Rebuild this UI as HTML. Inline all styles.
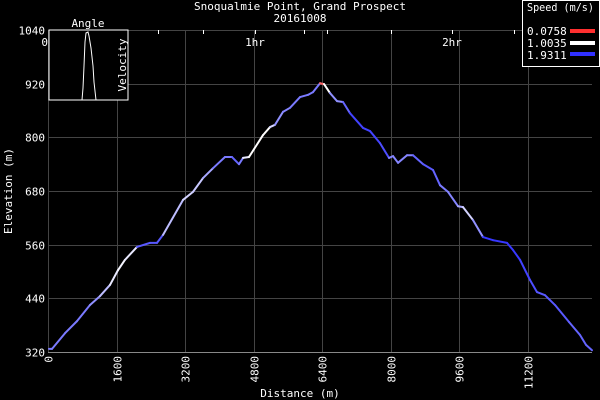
<!DOCTYPE html>
<html><head><meta charset="utf-8"><style>
html,body{margin:0;padding:0;background:#000;}
svg{display:block;font-family:"DejaVu Sans Mono","Liberation Mono",monospace;}
</style></head><body>
<svg id="chart" width="600" height="400" viewBox="0 0 600 400">
<g id="grid"></g>
<g id="axes"></g>
<g id="series"></g>
<text x="300" y="10" fill="#fff" font-size="11" text-anchor="middle">Snoqualmie Point, Grand Prospect</text>
<text x="300" y="22" fill="#fff" font-size="11" text-anchor="middle">20161008</text>
<text x="300" y="397" fill="#fff" font-size="11" text-anchor="middle">Distance (m)</text>
<text transform="translate(12,191) rotate(-90)" fill="#fff" font-size="11" text-anchor="middle">Elevation (m)</text>
<g>
<rect x="49" y="30" width="79" height="70" fill="#000" stroke="#fff" stroke-width="1"/>
<text x="88" y="27" fill="#fff" font-size="11" text-anchor="middle">Angle</text>
<text transform="translate(126,65) rotate(-90)" fill="#fff" font-size="11" text-anchor="middle">Velocity</text>
<polyline points="82,100 83,88 84,66 85,42 86,33 88,32 89,36 91,48 93,66 94,82 96,100" fill="none" stroke="#fff" stroke-width="1"/>
</g>
<g>
<rect x="222.5" y="0.5" width="77" height="66" fill="#000" stroke="#fff" stroke-width="1" transform="translate(300,0)"/>
<text x="527" y="11" fill="#fff" font-size="11" textLength="67" lengthAdjust="spacingAndGlyphs">Speed (m/s)</text>
<text x="527" y="35" fill="#fff" font-size="11">0.0758</text>
<rect x="570" y="29" width="25" height="4" fill="#ff3030"/>
<text x="527" y="47" fill="#fff" font-size="11">1.0035</text>
<rect x="570" y="41" width="25" height="4" fill="#fff"/>
<text x="527" y="59" fill="#fff" font-size="11">1.9311</text>
<rect x="570" y="52" width="25" height="4" fill="#3030ff"/>
</g>
</svg>
<script>
const distances=[23,94,397,677,981,1215,1448,1635,1798,2079,2383,2546,2687,3153,3387,3621,3855,4134,4298,4461,4555,4695,5022,5186,5302,5489,5653,5887,6074,6190,6354,6447,6587,6751,6891,7054,7358,7522,7755,7965,8059,8176,8386,8526,8760,8993,9157,9344,9577,9694,9928,10161,10395,10722,10862,11026,11259,11422,11609,11843,12170,12427,12567,12707];
const elevations=[327,327,362,389,425,445,470,503,526,555,564,564,582,660,678,709,731,756,756,740,754,756,805,823,828,857,866,890,895,901,921,919,899,881,879,854,821,814,787,754,758,743,760,760,740,727,693,678,646,644,615,577,570,564,548,526,481,454,447,425,387,358,336,324];
const speeds=[1.6,1.6,1.6,1.6,1.6,1.5,1.3,1.1,1.05,1.1,1.75,1.75,1.75,1.3,1.2,1.25,1.4,1.6,1.6,1.7,1.6,1.1,1.0,1.0,1.2,1.5,1.55,1.6,1.6,1.6,1.6,0.3,1.0,1.5,1.5,1.7,1.85,1.85,1.85,1.8,1.55,1.55,1.55,1.55,1.7,1.75,1.7,1.6,1.55,1.4,1.2,1.5,1.9,1.9,1.9,1.9,1.85,1.8,1.75,1.75,1.75,1.7,1.7,1.7];
const xTicks=[0,1600,3200,4800,6400,8000,9600,11200];
const yTicks=[320,440,560,680,800,920,1040];
const ns='http://www.w3.org/2000/svg';
function X(d){return 48+d*68.5/1600;}
function Y(e){return 352-(e-320)*322/720;}
function col(s){
  let r,g,b;
  if(s<=1.0035){const t=Math.max(0,(s-0.0758)/(1.0035-0.0758));r=255;g=48+207*t;b=48+207*t;}
  else{const t=Math.min(1,(s-1.0035)/(1.9311-1.0035));r=255-207*t;g=255-207*t;b=255;}
  return 'rgb('+Math.round(r)+','+Math.round(g)+','+Math.round(b)+')';
}
function mk(tag,attrs,parent){const e=document.createElementNS(ns,tag);for(const k in attrs)e.setAttribute(k,attrs[k]);parent.appendChild(e);return e;}
const grid=document.getElementById('grid'),axes=document.getElementById('axes'),series=document.getElementById('series');
xTicks.forEach(v=>{const x=Math.round(X(v))+0.5;const l=mk('line',{x1:x,x2:x,y1:30,y2:352,stroke:'#444'},grid);


const t=mk('text',{transform:'translate('+(x+4)+',356) rotate(-90)',fill:'#fff','font-size':11,'text-anchor':'end'},axes);t.textContent=v;

});
yTicks.forEach(v=>{const y=Math.round(Y(v))+0.5;const l=mk('line',{x1:48,x2:592,y1:y,y2:y,stroke:'#444'},grid);


const t=mk('text',{x:45,y:y+4,fill:'#fff','font-size':11,'text-anchor':'end'},axes);t.textContent=v;

});
mk('line',{x1:48,x2:592,y1:352.5,y2:352.5,stroke:'#888'},axes);
[[48,'0H'],[255,'1hr'],[452,'2hr']].forEach(p=>{const t=mk('text',{x:p[0],y:46,fill:'#fff','font-size':11,'text-anchor':'middle'},axes);t.textContent=p[1];

});
[158,203,255,304,327,391,452,514].forEach(x=>{mk('line',{x1:x+0.5,x2:x+0.5,y1:30,y2:34,stroke:'#fff'},axes);});
for(let i=1;i<distances.length;i++){
  const l=mk('line',{x1:X(distances[i-1]),y1:Y(elevations[i-1]),x2:X(distances[i]),y2:Y(elevations[i]),stroke:col(speeds[i]),'stroke-width':2,'stroke-linecap':'round'},series);
  
  
}
</script>
</body></html>
